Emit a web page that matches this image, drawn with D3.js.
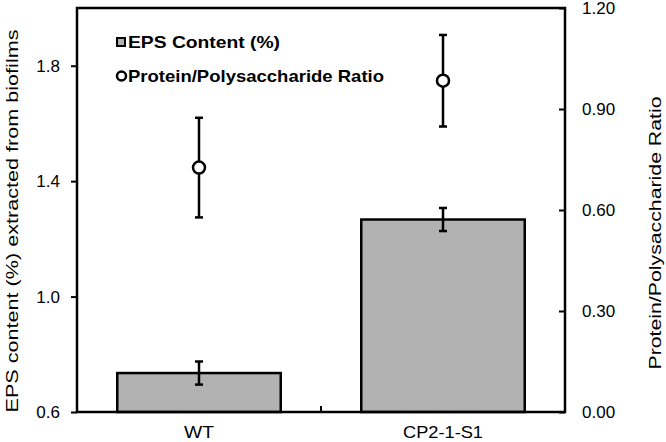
<!DOCTYPE html>
<html>
<head>
<meta charset="utf-8">
<script src="https://d3js.org/d3.v7.min.js"></script>
<style>
  body { margin: 0; background: #fff; }
  text { font-family: Arial, "Liberation Sans", sans-serif; fill: #000; }
</style>
</head>
<body>
<div id="chart"></div>
<script>
// data
var categories = ["WT", "CP2-1-S1"];
var epsContent = [0.735, 1.267];
var epsError = [0.04, 0.04];
var ratio = [0.726, 0.984];
var ratioError = [0.148, 0.136];
var leftTicks = [0.6, 1.0, 1.4, 1.8];
var rightTicks = [0, 0.3, 0.6, 0.9, 1.2];

var width = 666, height = 442;
var margin = {top: 8, right: 101, bottom: 30, left: 77};
var x0 = margin.left, x1 = width - margin.right,
    y0 = height - margin.bottom, y1 = margin.top;
var font = "Arial, 'Liberation Sans', sans-serif";

var svg = d3.select("#chart").append("svg")
    .attr("width", width)
    .attr("height", height);

// scales
var x = d3.scaleBand().domain(categories).range([x0, x1]).padding(0);
var yL = d3.scaleLinear().domain([0.6, 2.0]).range([y0, y1]);
var yR = d3.scaleLinear().domain([0, 1.2]).range([y0, y1]);
var barW = x.bandwidth() * 0.67;

// bars
svg.selectAll(".bar")
  .data(categories)
  .enter().append("rect")
    .attr("x", function(d) { return x(d) + x.bandwidth() / 2 - barW / 2; })
    .attr("y", function(d, i) { return yL(epsContent[i]); })
    .attr("width", barW)
    .attr("height", function(d, i) { return yL(0.6) - yL(epsContent[i]); })
    .attr("fill", "#b2b2b2")
    .attr("stroke", "#000")
    .attr("stroke-width", 2.5);

// error bars helper
function errBar(cx, yTop, yBot) {
  var g = svg.append("g").attr("stroke", "#000").attr("stroke-width", 2.5);
  g.append("line").attr("x1", cx).attr("x2", cx).attr("y1", yTop).attr("y2", yBot);
  g.append("line").attr("x1", cx - 4).attr("x2", cx + 4).attr("y1", yTop).attr("y2", yTop);
  g.append("line").attr("x1", cx - 4).attr("x2", cx + 4).attr("y1", yBot).attr("y2", yBot);
}

categories.forEach(function(c, i) {
  var cx = x(c) + x.bandwidth() / 2;
  errBar(cx, yL(epsContent[i] + epsError[i]), yL(epsContent[i] - epsError[i]));
  errBar(cx, yR(ratio[i] + ratioError[i]), yR(ratio[i] - ratioError[i]));
});

// ratio points
svg.selectAll(".pt")
  .data(categories)
  .enter().append("circle")
    .attr("cx", function(d) { return x(d) + x.bandwidth() / 2; })
    .attr("cy", function(d, i) { return yR(ratio[i]); })
    .attr("r", 6)
    .attr("fill", "#fff")
    .attr("stroke", "#000")
    .attr("stroke-width", 2.5);

// left axis
var axL = svg.append("g")
    .attr("transform", "translate(" + x0 + ",0)")
    .call(d3.axisLeft(yL).tickValues(leftTicks).tickSize(6).tickPadding(11).tickFormat(d3.format(".1f")));
axL.select(".domain").remove();
axL.selectAll("line").attr("stroke-width", 2);
axL.selectAll("text").attr("font-size", 17).attr("font-family", font);

// right axis (ticks inward)
var axR = svg.append("g")
    .attr("transform", "translate(" + x1 + ",0)")
    .call(d3.axisRight(yR).tickValues(rightTicks).tickSize(-6).tickPadding(17).tickFormat(d3.format(".2f")));
axR.select(".domain").remove();
axR.selectAll("line").attr("stroke-width", 2);
axR.selectAll("text").attr("font-size", 17).attr("font-family", font);

// bottom axis: category labels and middle tick
var axB = svg.append("g")
    .attr("transform", "translate(0," + y0 + ")")
    .call(d3.axisBottom(x).tickSize(0).tickPadding(14));
axB.select(".domain").remove();
axB.selectAll("text").attr("font-size", 17).attr("font-family", font)
    .attr("textLength", function(d) { return d === "WT" ? 30 : 80; })
    .attr("lengthAdjust", "spacingAndGlyphs");
svg.append("line")
    .attr("x1", x(categories[1])).attr("x2", x(categories[1]))
    .attr("y1", y0).attr("y2", y0 - 6)
    .attr("stroke", "#000").attr("stroke-width", 2);

// frame
svg.append("rect")
    .attr("x", x0).attr("y", y1)
    .attr("width", x1 - x0).attr("height", y0 - y1)
    .attr("fill", "none")
    .attr("stroke", "#000")
    .attr("stroke-width", 2.5);

// axis titles
svg.append("text")
    .attr("transform", "translate(18,221) rotate(-90)")
    .attr("text-anchor", "middle")
    .attr("font-size", 17)
    .attr("textLength", 383)
    .attr("lengthAdjust", "spacingAndGlyphs")
    .text("EPS content (%) extracted from biofilms");

svg.append("text")
    .attr("transform", "translate(661,233) rotate(-90)")
    .attr("text-anchor", "middle")
    .attr("font-size", 17)
    .attr("textLength", 273)
    .attr("lengthAdjust", "spacingAndGlyphs")
    .text("Protein/Polysaccharide Ratio");

// legend
var leg = svg.append("g").attr("transform", "translate(117,0)");
leg.append("rect")
    .attr("x", 0).attr("y", 38).attr("width", 8).attr("height", 8)
    .attr("fill", "#b2b2b2").attr("stroke", "#000").attr("stroke-width", 2);
leg.append("text")
    .attr("x", 11).attr("y", 48)
    .attr("font-size", 17).attr("font-weight", "bold")
    .attr("textLength", 152)
    .attr("lengthAdjust", "spacingAndGlyphs")
    .text("EPS Content (%)");
leg.append("circle")
    .attr("cx", 4.5).attr("cy", 76).attr("r", 4.5)
    .attr("fill", "#fff").attr("stroke", "#000").attr("stroke-width", 2.5);
leg.append("text")
    .attr("x", 11).attr("y", 82)
    .attr("font-size", 17).attr("font-weight", "bold")
    .attr("textLength", 256)
    .attr("lengthAdjust", "spacingAndGlyphs")
    .text("Protein/Polysaccharide Ratio");
</script>
</body>
</html>
